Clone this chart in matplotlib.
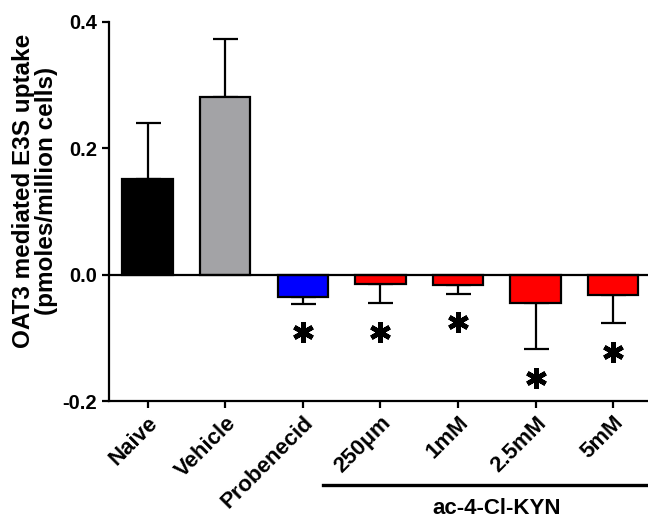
import matplotlib
matplotlib.use('Agg')
import matplotlib.pyplot as plt

plt.rcParams['font.family'] = ['Liberation Sans', 'DejaVu Sans']
plt.rcParams['font.weight'] = 'bold'

names = ['Naive', 'Vehicle', 'Probenecid', '250\u03bcm', '1mM', '2.5mM', '5mM']
means = [0.152, 0.281, -0.036, -0.014, -0.016, -0.045, -0.032]
errs = [0.088, 0.092, 0.010, 0.031, 0.014, 0.073, 0.045]
stars = [2, 3, 4, 5, 6]  # significant groups
colors = ['black', '#a3a3a6', '#0000ff', '#ff0000', '#ff0000', '#ff0000', '#ff0000']

fig = plt.figure(figsize=(6.48, 5.23), dpi=100)
ax = fig.add_axes([0.168, 0.233, 0.832, 0.725])

x = list(range(len(names)))
ax.bar(x, means, width=0.65, color=colors, edgecolor='black', linewidth=1.6, zorder=2)
for i in x:
    lo = errs[i] if means[i] < 0 else 0
    hi = errs[i] if means[i] > 0 else 0
    ax.errorbar(i, means[i], yerr=[[lo], [hi]], fmt='none', ecolor='black',
                elinewidth=1.6, capsize=9, capthick=1.6, zorder=1)
for i in stars:
    ax.plot(i, means[i] - errs[i] - 0.045, marker=(6, 2, 0), ms=15, mew=3.4,
            color='black', linestyle='none')

ax.axhline(0, color='black', lw=1.6, zorder=3)
ax.set_xlim(-0.5, 6.45)
ax.set_ylim(-0.2, 0.4)
ax.set_yticks([-0.2, 0.0, 0.2, 0.4])
ax.set_yticklabels(['-0.2', '0.0', '0.2', '0.4'], fontsize=14.5, fontweight='bold')
ax.set_xticks(x)
ax.set_xticklabels(names, rotation=45, ha='right', rotation_mode='anchor',
                   fontsize=16, fontweight='bold')
ax.spines['top'].set_visible(False)
ax.spines['right'].set_visible(False)
ax.spines['left'].set_linewidth(1.6)
ax.spines['bottom'].set_linewidth(1.6)
ax.tick_params(width=1.6, length=5)
ax.tick_params(axis='x', pad=3)
ax.set_ylabel('OAT3 mediated E3S uptake\n(pmoles/million cells)', fontsize=17.5,
              fontweight='bold', linespacing=1.0)
ax.yaxis.set_label_coords(-0.094, 0.555)

# group bar under the treatment labels
fig.add_artist(plt.Line2D([323 / 648, 1.0], [1 - 485 / 523, 1 - 485 / 523],
                          color='black', lw=2.4))
fig.text(497 / 648, 1 - 508 / 523, 'ac-4-Cl-KYN', ha='center', va='center',
         fontsize=16, fontweight='bold')

fig.savefig('out.png', dpi=100)
